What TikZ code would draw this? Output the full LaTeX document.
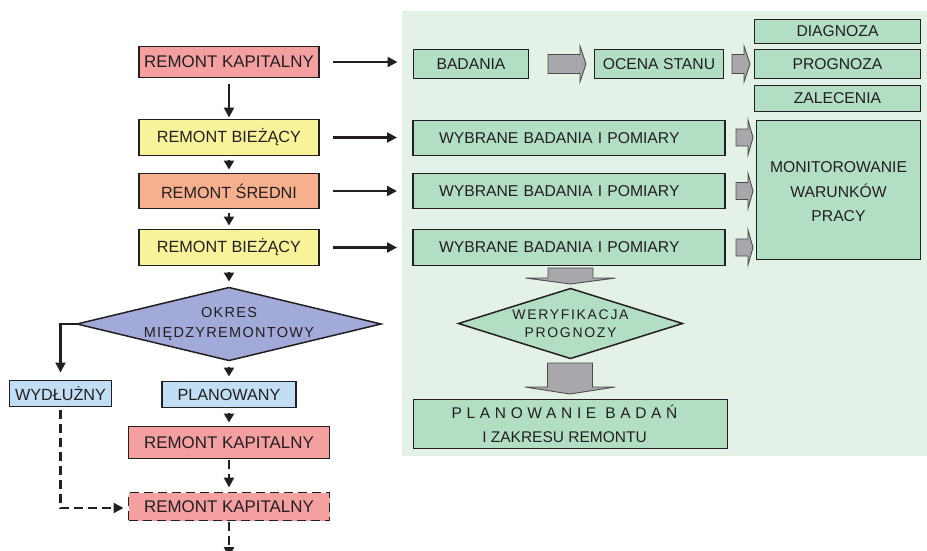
\documentclass[tikz,border=0pt]{standalone}
\usepackage{fontspec}
\setmainfont{Liberation Sans}
\usetikzlibrary{arrows.meta,shapes.geometric}
\definecolor{ink}{HTML}{231F20}
\definecolor{pinkc}{HTML}{F5A0A0}
\definecolor{yel}{HTML}{F8F39B}
\definecolor{ora}{HTML}{F7B08E}
\definecolor{blu}{HTML}{A1AAD8}
\definecolor{lblu}{HTML}{C1DEF4}
\definecolor{grn}{HTML}{B2DEC4}
\definecolor{bgg}{HTML}{E3F1E6}
\definecolor{gry}{HTML}{A8A8AC}
\newcommand{\hblk}[6]{% x0 x1 xtip yc halfshaft halfhead
  \filldraw[garrow] (#1,#4-#5) -- (#2,#4-#5) -- (#2,#4-#6) -- (#3,#4) -- (#2,#4+#6) -- (#2,#4+#5) -- (#1,#4+#5) -- cycle;}
\newcommand{\vblk}[6]{% xc y0 y1 ytip halfshaft halfhead
  \filldraw[garrow] (#1-#5,#2) -- (#1-#5,#3) -- (#1-#6,#3) -- (#1,#4) -- (#1+#6,#3) -- (#1+#5,#3) -- (#1+#5,#2) -- cycle;}
\begin{document}
\begin{tikzpicture}[x=1pt,y=-1pt,
  every node/.style={text=ink},
  box/.style={draw=ink, line width=1.9pt, inner sep=0pt, outer sep=0pt, align=center},
  dia/.style={diamond, draw=ink, line width=1.5pt, inner sep=0pt, outer sep=0pt},
  lf/.style={font=\fontsize{16.2}{19}\selectfont},
  kf/.style={font=\fontsize{16.9}{19}\selectfont},
  rf/.style={font=\fontsize{15.7}{24.5}\selectfont},
  conn/.style={draw=ink, line width=2.3pt, -{Triangle[length=10pt,width=10pt]}},
  tri/.style={draw=ink, line width=2pt, -{Triangle[length=9pt,width=10pt]}},
  dsh/.style={dash pattern=on 9pt off 5pt},
  garrow/.style={fill=gry, draw=ink!80, line width=0.9pt, line join=miter}]
\useasboundingbox (0,0) rectangle (927,550);
\fill[bgg] (402,11) rectangle (927,456);

% left column
\node[box, kf, fill=pinkc, minimum width=180pt, minimum height=31pt] (rk1) at (229,62) {REMONT KAPITALNY};
\node[box, lf, fill=yel, minimum width=180pt, minimum height=36pt] (rb1) at (229,137.5) {REMONT BIEŻĄCY};
\node[box, lf, fill=ora, minimum width=180pt, minimum height=35pt] (rs) at (229,191) {REMONT ŚREDNI};
\node[box, lf, fill=yel, minimum width=180pt, minimum height=36pt] (rb2) at (229,247.5) {REMONT BIEŻĄCY};
\node[dia, fill=blu, minimum width=304pt, minimum height=73pt] (okres) at (229,324) {};
\node[font=\fontsize{14.5}{20}\selectfont\addfontfeature{LetterSpace=9}, align=center] (okrest) at (okres) {OKRES\\MIĘDZYREMONTOWY};
\node[box, lf, fill=lblu, minimum width=102pt, minimum height=26pt] (wyd) at (60.5,393.5) {WYDŁUŻNY};
\node[box, lf, fill=lblu, minimum width=134pt, minimum height=26pt] (plan) at (229,394.5) {PLANOWANY};
\node[box, kf, fill=pinkc, minimum width=201pt, minimum height=32pt] (rk2) at (229,442.5) {REMONT KAPITALNY};
\node[box, kf, fill=pinkc, dsh, minimum width=201pt, minimum height=28pt] (rk3) at (229,506.5) {REMONT KAPITALNY};
\coordinate (out) at (229,557);

% right part
\node[box, rf, fill=grn, minimum width=115pt, minimum height=29pt] (bad) at (471,64) {BADANIA};
\node[box, rf, fill=grn, minimum width=129pt, minimum height=29pt] (ocena) at (659,64) {OCENA STANU};
\node[box, rf, fill=grn, minimum width=166pt, minimum height=24pt] (diag) at (837.5,31.5) {DIAGNOZA};
\node[box, rf, fill=grn, minimum width=166pt, minimum height=29pt] (prog) at (837.5,64) {PROGNOZA};
\node[box, rf, fill=grn, minimum width=166pt, minimum height=26pt] (zal) at (837.5,98.5) {ZALECENIA};
\node[box, rf, fill=grn, minimum width=164pt, minimum height=139pt] (mon) at (838.5,190) {\rule{0pt}{15pt}MONITOROWANIE\\WARUNKÓW\\PRACY};
\node[box, rf, fill=grn, inner xsep=26pt, text width=260pt, align=left, minimum height=35pt] (w1) at (569,138) {WYBRANE BADANIA I POMIARY};
\node[box, rf, fill=grn, inner xsep=26pt, text width=260pt, align=left, minimum height=35pt] (w2) at (569,191) {WYBRANE BADANIA I POMIARY};
\node[box, rf, fill=grn, inner xsep=26pt, text width=260pt, align=left, minimum height=36pt] (w3) at (569,247.5) {WYBRANE BADANIA I POMIARY};
\node[dia, fill=grn, minimum width=224pt, minimum height=70pt] (wer) at (570.5,323.5) {};
\node[font=\fontsize{14}{17.5}\selectfont\addfontfeature{LetterSpace=12}, align=center] (wert) at (wer) {WERYFIKACJA\\PROGNOZY};
\node[box, fill=grn, font=\fontsize{15.5}{24}\selectfont, minimum width=314pt, minimum height=49pt] (plw) at (570.5,424) {{\addfontfeature{LetterSpace=30}PLANOWANIE BADAŃ}\hspace*{12pt}\\I ZAKRESU REMONTU\hspace*{12pt}};

% gray block arrows
\hblk{548}{580}{586}{64}{9.5}{18}
\hblk{732}{744}{750}{64}{9.5}{18}
\hblk{736}{748}{753}{137.5}{8.5}{17.5}
\hblk{736}{748}{753}{191}{8.5}{17.5}
\hblk{736}{748}{753}{247.5}{8.5}{17.5}
\vblk{570.5}{268}{278}{284}{22.5}{45}
\vblk{570}{363}{387}{394}{22.5}{45}

% connectors
\draw[conn, shorten <=14pt, shorten >=16pt] (rk1.east) -- (rk1.east -| bad.west);
\draw[conn, shorten <=14pt, shorten >=16pt] (rb1.east) -- (rb1.east -| w1.west);
\draw[conn, shorten <=14pt, shorten >=16pt] (rs.east) -- (rs.east -| w2.west);
\draw[conn, shorten <=14pt, shorten >=16pt] (rb2.east) -- (rb2.east -| w3.west);
\draw[conn, shorten <=6pt, shorten >=2pt] (rk1.south) -- (rb1.north);
\draw[tri, shorten <=4pt, shorten >=4pt] (rb1.south) -- (rs.north);
\draw[tri, shorten <=4pt, shorten >=4pt] (rs.south) -- (rb2.north);
\draw[tri, shorten <=6pt, shorten >=6pt] (rb2.south) -- (okres.north);
\draw[tri, shorten <=6pt, shorten >=5pt] (okres.south) -- (plan.north);
\draw[tri, shorten <=5pt, shorten >=4pt] (plan.south) -- (rk2.north);
\draw[conn, shorten >=8pt] (okres.west) -| (wyd.north);
\draw[conn, dsh, shorten <=1pt, shorten >=5pt] (rk2.south) -- (rk3.north);
\draw[conn, dsh, shorten <=3pt, shorten >=5pt] (wyd.south) |- ([yshift=-1.5pt]rk3.west);
\draw[conn, dsh, shorten <=1pt] (rk3.south) -- (out);
\end{tikzpicture}
\end{document}
